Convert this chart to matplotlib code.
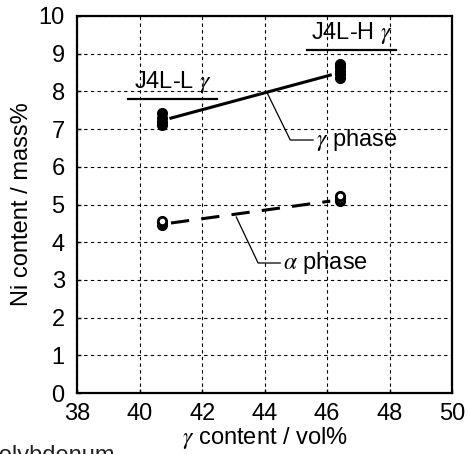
import matplotlib.pyplot as plt
import numpy as np

plt.rcParams['font.family'] = ['Liberation Sans', 'DejaVu Sans']
plt.rcParams['mathtext.fontset'] = 'stix'

# gamma content (vol%) of the two alloys
alloy_x = [40.7, 46.4]
alloy_names = ['J4L-L', 'J4L-H']

# measured Ni content, gamma phase
gam_low = [7.1, 7.2, 7.3, 7.43]
gam_high = [8.36, 8.45, 8.55, 8.65, 8.72]
# measured Ni content, alpha phase
alp_low = [4.45, 4.52, 4.56]
alp_high = [5.1, 5.15, 5.22]

# fitted trend lines (start, end)
gam_fit = [7.29, 8.43]
alp_fit = [4.51, 5.09]
fit_x = [41.0, 46.1]

FS = 17

fig = plt.figure(figsize=(4.68, 4.54), dpi=100)
ax = fig.add_axes([0.165, 0.134, 0.801, 0.831])

ax.set_xlim(38, 50)
ax.set_ylim(0, 10)
ax.set_xticks(np.arange(38, 51, 2))
ax.set_yticks(np.arange(0, 11, 1))
ax.grid(True, color='black', linestyle=(0, (3, 3)), linewidth=0.8)
ax.tick_params(direction='in', length=3, labelsize=FS, width=1)
ax.tick_params(axis='y', pad=9)
ax.tick_params(axis='x', pad=7)
for s in ax.spines.values():
    s.set_linewidth(1.6)

# points
for xv, ys in [(alloy_x[0], gam_low), (alloy_x[1], gam_high)]:
    ax.plot([xv] * len(ys), ys, 'o', color='black', ms=7, zorder=3)
for xv, ys in [(alloy_x[0], alp_low), (alloy_x[1], alp_high)]:
    ax.plot([xv] * len(ys), ys, 'o', mfc='white', mec='black', mew=2, ms=6, zorder=3)

# trend lines
ax.plot(fit_x, gam_fit, '-', color='black', lw=2.2)
ax.plot(fit_x, alp_fit, '--', color='black', lw=2.2, dashes=(6, 4))

# alloy labels with underline
ax.text(41.07, 7.9, alloy_names[0] + r' $\gamma$', fontsize=FS, ha='center', va='bottom')
ax.plot([39.63, 42.48], [7.8, 7.8], color='black', lw=1.6, clip_on=False)
ax.text(46.8, 9.2, alloy_names[1] + r' $\gamma$', fontsize=FS, ha='center', va='bottom')
ax.plot([45.36, 48.2], [9.1, 9.1], color='black', lw=1.6, clip_on=False)

# leader lines
ax.plot([44.08, 44.82, 45.55], [7.96, 6.71, 6.71], color='black', lw=0.9)
ax.text(45.65, 6.71, r'$\gamma$ phase', fontsize=FS, va='center')
ax.plot([43.09, 43.79, 44.5], [4.67, 3.45, 3.45], color='black', lw=0.9)
ax.text(44.6, 3.45, r'$\alpha$ phase', fontsize=FS, va='center')

ax.set_xlabel(r'$\gamma$ content / vol%', fontsize=FS, labelpad=0)
ax.set_ylabel('Ni content / mass%', fontsize=FS, labelpad=4)

fig.text(-0.045, 0.02, 'Molybdenum', fontsize=FS, va='top', color='#222222')

fig.savefig('out.png', dpi=100)
